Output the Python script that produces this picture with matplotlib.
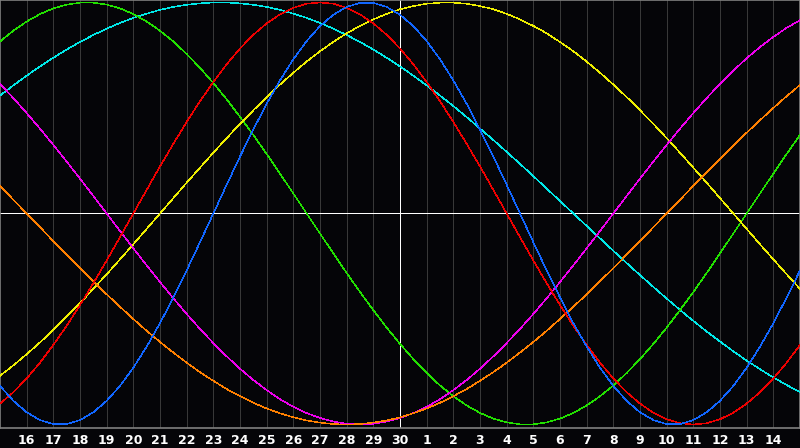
import matplotlib
matplotlib.use('Agg')
import matplotlib.pyplot as plt
import numpy as np

# days relative to today (the 30th), one value every half day
days = np.arange(-15, 15.5, 0.5)
tick_days = list(range(-14, 15))
day_labels = ['16', '17', '18', '19', '20', '21', '22', '23', '24', '25', '26', '27', '28', '29', '30',
              '1', '2', '3', '4', '5', '6', '7', '8', '9', '10', '11', '12', '13', '14']

# blue
physical = [-0.817, -0.888, -0.942, -0.979, -0.998, -0.998, -0.979, -0.942, -0.888, -0.817,
            -0.731, -0.631, -0.520, -0.398, -0.270, -0.136,
            0.0, 0.136, 0.270, 0.398, 0.520, 0.631, 0.731, 0.817, 0.888, 0.942, 0.979, 0.998,
            0.998, 0.979, 0.942, 0.888, 0.817, 0.731, 0.631, 0.520, 0.398, 0.270, 0.136, 0.0,
            -0.136, -0.270, -0.398, -0.520, -0.631, -0.731, -0.817, -0.888, -0.942, -0.979,
            -0.998, -0.998, -0.979, -0.942, -0.888, -0.817, -0.731, -0.631, -0.520, -0.398, -0.270]

# red
emotional = [-0.901, -0.847, -0.782, -0.707, -0.623, -0.532, -0.434, -0.330, -0.223, -0.112,
             0.0, 0.112, 0.223, 0.330, 0.434, 0.532, 0.623, 0.707, 0.782, 0.847, 0.901, 0.944,
             0.975, 0.994, 1.0, 0.994, 0.975, 0.944, 0.901, 0.847, 0.782, 0.707, 0.623, 0.532,
             0.434, 0.330, 0.223, 0.112, 0.0, -0.112, -0.223, -0.330, -0.434, -0.532, -0.623,
             -0.707, -0.782, -0.847, -0.901, -0.944, -0.975, -0.994, -1.0, -0.994, -0.975,
             -0.944, -0.901, -0.847, -0.782, -0.707, -0.623]

# green
intellectual = [0.815, 0.866, 0.910, 0.945, 0.972, 0.990, 0.999, 0.999, 0.990, 0.972, 0.945,
                0.910, 0.866, 0.815, 0.756, 0.690, 0.618, 0.541, 0.458, 0.372, 0.282, 0.189,
                0.095, 0.0, -0.095, -0.189, -0.282, -0.372, -0.458, -0.541, -0.618, -0.690,
                -0.756, -0.815, -0.866, -0.910, -0.945, -0.972, -0.990, -0.999, -0.999, -0.990,
                -0.972, -0.945, -0.910, -0.866, -0.815, -0.756, -0.690, -0.618, -0.541, -0.458,
                -0.372, -0.282, -0.189, -0.095, 0.0, 0.095, 0.189, 0.282, 0.372]

# magenta
intuitive = [0.614, 0.547, 0.476, 0.402, 0.325, 0.246, 0.165, 0.083, 0.0, -0.083, -0.165,
             -0.246, -0.325, -0.402, -0.476, -0.547, -0.614, -0.677, -0.736, -0.789, -0.837,
             -0.880, -0.916, -0.946, -0.969, -0.986, -0.997, -1.0, -0.997, -0.986, -0.969,
             -0.946, -0.916, -0.880, -0.837, -0.789, -0.736, -0.677, -0.614, -0.547, -0.476,
             -0.402, -0.325, -0.246, -0.165, -0.083, 0.0, 0.083, 0.165, 0.246, 0.325, 0.402,
             0.476, 0.547, 0.614, 0.677, 0.736, 0.789, 0.837, 0.880, 0.916]

# yellow
aesthetic = [-0.769, -0.720, -0.667, -0.611, -0.552, -0.489, -0.425, -0.357, -0.288, -0.217,
             -0.146, -0.073, 0.0, 0.073, 0.146, 0.217, 0.288, 0.357, 0.425, 0.489, 0.552, 0.611,
             0.667, 0.720, 0.769, 0.813, 0.854, 0.889, 0.920, 0.946, 0.968, 0.983, 0.994, 0.999,
             0.999, 0.994, 0.983, 0.968, 0.946, 0.920, 0.889, 0.854, 0.813, 0.769, 0.720, 0.667,
             0.611, 0.552, 0.489, 0.425, 0.357, 0.288, 0.217, 0.146, 0.073, 0.0, -0.073, -0.146,
             -0.217, -0.288, -0.357]

# orange
awareness = [0.131, 0.065, 0.0, -0.065, -0.131, -0.195, -0.259, -0.321, -0.383, -0.442, -0.5,
             -0.556, -0.609, -0.659, -0.707, -0.752, -0.793, -0.832, -0.866, -0.897, -0.924,
             -0.947, -0.966, -0.981, -0.991, -0.998, -1.0, -0.998, -0.991, -0.981, -0.966,
             -0.947, -0.924, -0.897, -0.866, -0.832, -0.793, -0.752, -0.707, -0.659, -0.609,
             -0.556, -0.5, -0.442, -0.383, -0.321, -0.259, -0.195, -0.131, -0.065, 0.0, 0.065,
             0.131, 0.195, 0.259, 0.321, 0.383, 0.442, 0.5, 0.556, 0.609]

# cyan
spiritual = [0.559, 0.607, 0.653, 0.697, 0.738, 0.777, 0.813, 0.846, 0.876, 0.903, 0.927,
             0.947, 0.965, 0.979, 0.989, 0.996, 1.0, 1.0, 0.996, 0.989, 0.979, 0.965, 0.947,
             0.927, 0.903, 0.876, 0.846, 0.813, 0.777, 0.738, 0.697, 0.653, 0.607, 0.559, 0.509,
             0.457, 0.403, 0.348, 0.292, 0.235, 0.177, 0.118, 0.059, 0.0, -0.059, -0.118, -0.177,
             -0.235, -0.292, -0.348, -0.403, -0.457, -0.509, -0.559, -0.607, -0.653, -0.697,
             -0.738, -0.777, -0.813, -0.846]

curves = [[spiritual, '#00e8e8'],
          [intellectual, '#22e000'],
          [aesthetic, '#eeee00'],
          [intuitive, '#ee00ee'],
          [awareness, '#ff8000'],
          [emotional, '#ee0000'],
          [physical, '#1166ff']]

bg = '#050508'

fig = plt.figure(figsize=(8, 4.48), dpi=100, facecolor=bg)
ax = fig.add_axes([0, 20 / 448, 1, 428 / 448])
ax.set_facecolor(bg)

for d in tick_days:
    if d != 0:
        ax.axvline(d, color='#383838', lw=0.36, antialiased=False, zorder=1)
ax.axhline(0, color='white', lw=0.36, antialiased=False, zorder=2)
ax.axvline(0, color='white', lw=0.36, antialiased=False, zorder=2)

for values, color in curves:
    ax.plot(days, values, color=color, lw=0.36, antialiased=False, zorder=3)

ax.set_xlim(-15, 15)
ax.set_ylim(-1.0166, 1.0118)

ax.set_xticks(tick_days)
ax.set_xticklabels(day_labels, color='white', fontweight='bold', fontsize=9)
ax.tick_params(axis='x', length=0, pad=4)
ax.set_yticks([])
for spine in ax.spines.values():
    spine.set_color('#808080')
    spine.set_linewidth(1.2)

plt.savefig('out.png', facecolor=bg)
